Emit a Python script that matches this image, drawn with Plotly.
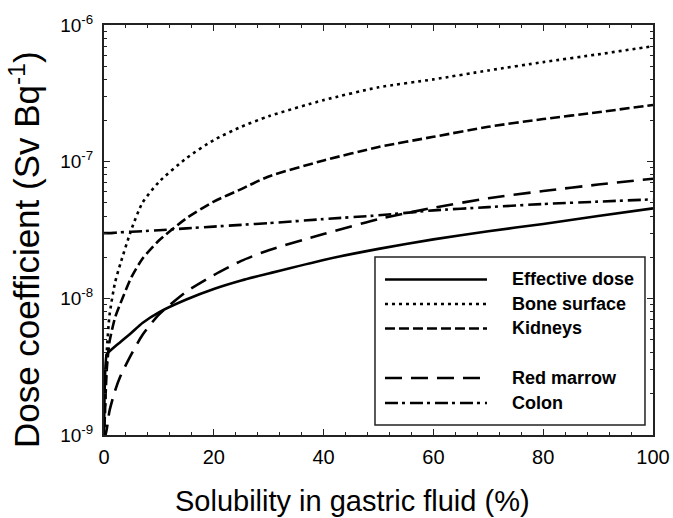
import plotly.graph_objects as go

# ---- data ----
solubility = [0, 0.5, 1, 2, 3, 5, 7, 10, 15, 20, 25, 30, 40, 50, 60, 70, 80, 90, 100]

effective_dose = [9e-10, 3.9e-9, 4.1e-9, 4.45e-9, 4.8e-9, 5.6e-9, 6.6e-9, 7.9e-9, 9.8e-9, 1.17e-8,
                  1.35e-8, 1.52e-8, 1.91e-8, 2.3e-8, 2.7e-8, 3.1e-8, 3.5e-8, 4.0e-8, 4.55e-8]
bone_surface = [9e-10, 4.0e-9, 7.5e-9, 1.3e-8, 1.8e-8, 3.2e-8, 5.0e-8, 7.1e-8, 1.06e-7, 1.44e-7,
                1.8e-7, 2.15e-7, 2.82e-7, 3.5e-7, 4.0e-7, 4.65e-7, 5.35e-7, 6.1e-7, 7.0e-7]
kidneys = [9e-10, 3.0e-9, 4.8e-9, 7.2e-9, 9.2e-9, 1.43e-8, 1.95e-8, 2.65e-8, 3.85e-8, 5.1e-8,
           6.3e-8, 7.8e-8, 1.02e-7, 1.28e-7, 1.52e-7, 1.8e-7, 2.05e-7, 2.3e-7, 2.6e-7]
red_marrow = [9e-10, 1.1e-9, 1.5e-9, 2.1e-9, 2.7e-9, 3.9e-9, 5.4e-9, 7.6e-9, 1.12e-8, 1.48e-8,
              1.88e-8, 2.25e-8, 2.95e-8, 3.8e-8, 4.6e-8, 5.4e-8, 6.1e-8, 6.8e-8, 7.5e-8]
colon = [3.0e-8, 3.0e-8, 3.0e-8, 3.02e-8, 3.04e-8, 3.07e-8, 3.1e-8, 3.15e-8, 3.25e-8, 3.35e-8,
         3.45e-8, 3.55e-8, 3.8e-8, 4.05e-8, 4.4e-8, 4.65e-8, 4.9e-8, 5.1e-8, 5.3e-8]

series_names = ["Effective dose", "Bone surface", "Kidneys", "Red marrow", "Colon"]
series_values = [effective_dose, bone_surface, kidneys, red_marrow, colon]
series_dash = ["solid", "3px,4px", "10px,4px", "17px,9px", "13px,4px,3px,5px"]

y_tickvals = [1e-9, 1e-8, 1e-7, 1e-6]
y_ticktext = ["10<sup>-9</sup>", "10<sup>-8</sup>", "10<sup>-7</sup>", "10<sup>-6</sup>"]
x_tickvals = [0, 20, 40, 60, 80, 100]

FONT = "Liberation Sans, Arial, sans-serif"
AX = "#222222"

fig = go.Figure()
for name, vals, dash in zip(series_names, series_values, series_dash):
    fig.add_trace(go.Scatter(
        x=solubility, y=vals, mode="lines", name=name,
        line=dict(color="black", width=2.6, dash=dash, shape="spline", smoothing=0.6),
        showlegend=False,
    ))

minor_y = [k * 10.0 ** e for e in (-9, -8, -7) for k in range(2, 10)]

fig.update_layout(
    width=673, height=518,
    margin=dict(l=104, r=20, t=25, b=83, autoexpand=False),
    paper_bgcolor="white", plot_bgcolor="white",
    font=dict(family=FONT, color="black"),
    showlegend=False,
    xaxis=dict(
        range=[0, 100], tickvals=x_tickvals, automargin=False,
        showline=True, linecolor=AX, linewidth=1.5, mirror="allticks",
        ticks="inside", ticklen=6, tickwidth=1.2, tickcolor=AX,
        minor=dict(ticks="inside", ticklen=3, tickwidth=1, tickcolor=AX, dtick=4, tick0=0),
        showgrid=False, zeroline=False, ticklabelstandoff=3,
        tickfont=dict(size=20, color="black", family=FONT),
    ),
    yaxis=dict(
        type="log", range=[-9, -6], automargin=False,
        tickvals=y_tickvals, ticktext=[t + "\u00a0" for t in y_ticktext],
        showline=True, linecolor=AX, linewidth=1.5, mirror="allticks",
        ticks="inside", ticklen=6, tickwidth=1.2, tickcolor=AX,
        minor=dict(ticks="inside", ticklen=3, tickwidth=1, tickcolor=AX,
                   tickmode="array", tickvals=minor_y),
        showgrid=False, zeroline=False,
        tickfont=dict(size=19, color="black", family=FONT),
    ),
)

# axis titles
fig.add_annotation(text="Solubility in gastric fluid (%)", xref="paper", yref="paper",
                   x=0.452, y=-0.16, xanchor="center", yanchor="middle", showarrow=False,
                   font=dict(size=29, color="black", family=FONT))
fig.add_annotation(text="Dose coefficient (Sv Bq<sup>-1</sup>)", xref="paper", yref="paper",
                   x=-0.145, y=0.452, xanchor="center", yanchor="middle", showarrow=False,
                   textangle=-90, font=dict(size=35, color="black", family=FONT))

# custom legend box
fig.add_shape(type="rect", xref="paper", yref="paper", x0=0.4936, x1=0.9854, y0=0.0244, y1=0.434,
              line=dict(color=AX, width=1.5), fillcolor="white", layer="above")
legend_rows = [0.3793, 0.3195, 0.2598, 0.1390, 0.0780]
for name, dash, yy in zip(series_names, series_dash, legend_rows):
    fig.add_shape(type="line", xref="paper", yref="paper", x0=0.5118, x1=0.6976, y0=yy, y1=yy,
                  line=dict(color="black", width=2.6, dash=dash), layer="above")
    fig.add_annotation(text="<b>" + name + "</b>", xref="paper", yref="paper",
                       x=0.7395, y=yy, xanchor="left", yanchor="middle", showarrow=False,
                       font=dict(size=18, color="black", family=FONT))

fig.write_html(
    "out.html",
    config={"displayModeBar": False},
    post_script="document.body.style.margin='0';document.body.style.overflow='hidden';",
)
